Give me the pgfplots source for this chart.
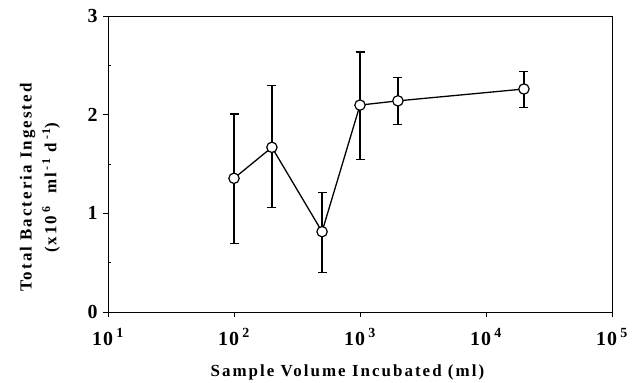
\documentclass[border=0pt]{standalone}
\usepackage{fontspec}
\setmainfont{Liberation Serif}
\newfontfamily\lblfont{Liberation Serif}[LetterSpace=12]
\newfontfamily\tickfont{Liberation Serif}[LetterSpace=6]
\usepackage{pgfplots}
\pgfplotsset{compat=1.18}
\begin{document}
\begin{tikzpicture}
\path[use as bounding box] (-108bp,-71bp) rectangle (529bp,312bp);
\begin{axis}[
  at={(0,0)}, anchor=south west,
  scale only axis, width=504bp, height=296bp,
  xmode=log, xmin=10, xmax=100000, ymin=0, ymax=3,
  log basis x=10,
  xtick={10,100,1000,10000,100000},
  xticklabels={10\,\textsuperscript{1},10\,\textsuperscript{2},10\,\textsuperscript{3},10\,\textsuperscript{4},10\,\textsuperscript{5}},
  ytick={0,1,2,3},
  minor ytick={0.5,1.5,2.5},
  tick pos=left,
  tick align=outside,
  major tick length=5bp, minor tick length=3bp,
  minor y tick style={xshift=3bp},
  axis line style={line width=1pt},
  tick style={line width=0.9pt, black},
  /pgf/number format/assume math mode=true,
  ticklabel style={font=\fontsize{20}{23}\tickfont\bfseries},
  xticklabel style={yshift=-8bp},
  yticklabel style={xshift=-2bp},
  xlabel={Sample Volume Incubated (ml)},
  xlabel style={font=\fontsize{17}{20}\lblfont\bfseries, at={(axis description cs:0.475,0)}, anchor=north, yshift=-49bp},
  ylabel={Total Bacteria Ingested\\(x10\,\textsuperscript{6}\ \ ml\,\textsuperscript{-1}\ d\,\textsuperscript{-1})},
  ylabel style={font=\fontsize{17}{25}\lblfont\bfseries, align=center, at={(axis description cs:-0.135,0.42)}, anchor=center},
]
\addplot[black, line width=1.3pt, mark=*, mark size=5.2bp,
  mark options={fill=white, draw=black, line width=1.2pt},
  error bars/.cd, y dir=both, y explicit,
  error bar style={line width=1.4pt},
  error mark options={rotate=90, mark size=4.5bp, line width=1.4pt}]
coordinates {
  (100,1.355)   += (0,0.651) -= (0,0.659)
  (200,1.669)   += (0,0.624) -= (0,0.609)
  (500,0.814)   += (0,0.399) -= (0,0.416)
  (1000,2.097)  += (0,0.540) -= (0,0.550)
  (2000,2.140)  += (0,0.238) -= (0,0.240)
  (20000,2.260) += (0,0.175) -= (0,0.186)
};
\end{axis}
\end{tikzpicture}
\end{document}
